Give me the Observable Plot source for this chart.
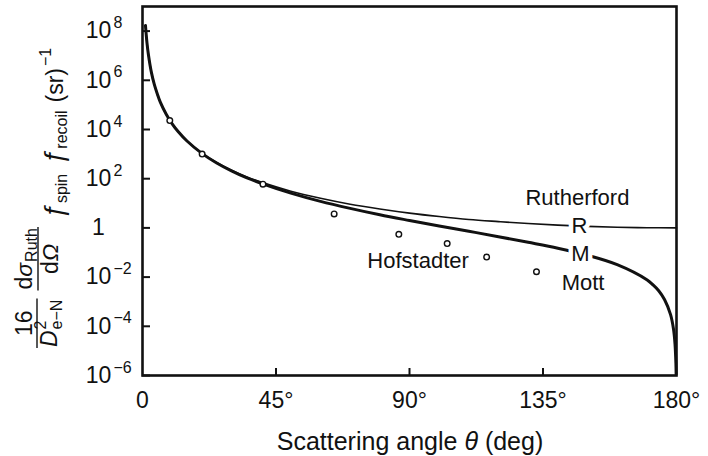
<!DOCTYPE html>
<html>
<head>
<meta charset="utf-8">
<script src="https://cdn.jsdelivr.net/npm/d3@7"></script>
<script src="https://cdn.jsdelivr.net/npm/@observablehq/plot@0.6"></script>
<style>
  html, body { margin: 0; padding: 0; background: #fff; }
  svg { display: block; }
</style>
</head>
<body>
<div id="chart"></div>
<script>
const FONT = "'Liberation Sans', Arial, Helvetica, sans-serif";
const INK = "#111";

// Rutherford curve
const rutherfordAngles = [1, 1.5, 2, 3, 4, 5, 6, 8, 10, 12, 15, 20, 25, 30, 35, 40, 50, 60, 70, 80, 90, 100, 110, 120, 130, 140, 150, 160, 170, 180];
const rutherfordValues = [1.7e8, 3.4e7, 1.1e7, 2.1e6, 6.7e5, 2.8e5, 1.3e5, 4.2e4, 1.7e4, 8.4e3, 3.4e3, 1.1e3, 460, 220, 120, 73, 31, 16, 9.2, 5.9, 4.0, 2.9, 2.2, 1.8, 1.5, 1.3, 1.15, 1.06, 1.02, 1.0];

// Mott curve
const mottAngles = [1, 1.5, 2, 3, 4, 5, 6, 8, 10, 12, 15, 20, 25, 30, 35, 40, 50, 60, 70, 80, 90, 100, 110, 120, 130, 140, 150, 160, 170, 172, 174, 176, 178, 179, 179.5, 179.8, 179.88];
const mottValues = [1.7e8, 3.4e7, 1.1e7, 2.1e6, 6.7e5, 2.8e5, 1.3e5, 4.2e4, 1.7e4, 8.3e3, 3.4e3, 1.07e3, 435, 208, 110, 65, 26, 12, 6.2, 3.4, 2.0, 1.2, 0.73, 0.44, 0.26, 0.15, 0.077, 0.032, 0.0078, 0.0049, 0.0028, 0.0012, 3.0e-4, 7.6e-5, 1.9e-5, 3.0e-6, 1.1e-6];

// Hofstadter measurements (open circles)
const hofstadterAngles = [9.2, 20.1, 40.6, 64.6, 86.4, 102.7, 116.0, 132.8];
const hofstadterValues = [2.3e4, 1.0e3, 60, 3.7, 0.55, 0.23, 0.065, 0.0165];

// Tick labels
const xTickValues = [0, 45, 90, 135, 180];
const xTickLabels = ["0", "45°", "90°", "135°", "180°"];
const yTickValues = [1e-6, 1e-4, 1e-2, 1, 1e2, 1e4, 1e6, 1e8];
const yTickBase = ["10", "10", "10", "1", "10", "10", "10", "10"];
const yTickExp = ["−6", "−4", "−2", "", "2", "4", "6", "8"];

// Annotations
const curveTags = ["R", "M"];
const curveTagAngles = [147.3, 147.6];
const curveTagValues = [1.17, 0.09];
const nameLabels = ["Rutherford", "Hofstadter", "Mott"];
const nameAngles = [146.6, 92.9, 148.5];
const nameValues = [17.2, 0.045, 0.0058];

const idx = (arr) => d3.range(arr.length);

const chart = Plot.plot({
  width: 708,
  height: 456,
  marginLeft: 142,
  marginRight: 32,
  marginTop: 6,
  marginBottom: 81,
  style: { fontFamily: FONT, fontSize: "22px", color: INK, background: "#fff" },
  x: { domain: [0, 180], label: null },
  y: { type: "log", domain: [1e-6, 1e9], label: null },
  marks: [
    // inward ticks
    Plot.axisX({ ticks: [45, 90, 135], tickSize: 7, dy: -7, tickFormat: () => "", label: null, strokeWidth: 2 }),
    Plot.axisY({ ticks: yTickValues, tickSize: 8, dx: 8, tickFormat: () => "", label: null, strokeWidth: 2 }),
    // x tick labels
    Plot.axisX({ ticks: xTickValues, tickSize: 0, tickPadding: 16, fontSize: 23,
      tickFormat: (d) => xTickLabels[xTickValues.indexOf(d)], label: null }),
    // y tick labels (base and exponent)
    Plot.text(idx(yTickValues), { y: (i) => yTickValues[i], text: (i) => yTickBase[i],
      frameAnchor: "left", textAnchor: "middle", dx: -44, fontSize: 23, fill: INK }),
    Plot.text(idx(yTickValues), { y: (i) => yTickValues[i], text: (i) => yTickExp[i],
      frameAnchor: "left", textAnchor: "start", dx: -29, dy: -8, fontSize: 16, fill: INK }),
    // curves
    Plot.line(idx(rutherfordAngles), { x: (i) => rutherfordAngles[i], y: (i) => rutherfordValues[i],
      stroke: INK, strokeWidth: 1.6, curve: "catmull-rom" }),
    Plot.line(idx(mottAngles), { x: (i) => mottAngles[i], y: (i) => mottValues[i],
      stroke: INK, strokeWidth: 3, curve: "catmull-rom" }),
    // data points
    Plot.dot(idx(hofstadterAngles), { x: (i) => hofstadterAngles[i], y: (i) => hofstadterValues[i],
      r: 2.8, stroke: INK, strokeWidth: 1.4, fill: "white" }),
    // curve tags with white halo (gap in line)
    Plot.text(idx(curveTags), { x: (i) => curveTagAngles[i], y: (i) => curveTagValues[i], text: (i) => curveTags[i],
      fontSize: 22, fill: INK, stroke: "white", strokeWidth: 9 }),
    Plot.text(idx(nameLabels), { x: (i) => nameAngles[i], y: (i) => nameValues[i], text: (i) => nameLabels[i],
      fontSize: 22, fill: INK }),
    Plot.frame({ stroke: INK, strokeWidth: 2.6 })
  ]
});

document.getElementById("chart").appendChild(chart);

const svg = d3.select(chart);

// x-axis title
const xt = svg.append("text")
  .attr("x", 410).attr("y", 450)
  .attr("text-anchor", "middle")
  .attr("font-family", FONT).attr("font-size", 25).attr("fill", INK);
xt.append("tspan").text("Scattering angle ");
xt.append("tspan").attr("font-style", "italic").text("θ");
xt.append("tspan").text(" (deg)");

// y-axis title (rotated math expression)
const yl = svg.append("g").attr("transform", "rotate(-90)")
  .attr("font-family", FONT).attr("fill", INK);
const S = 23, s = 16;
const BAR = 37, NUM = 32, DEN = 57, MB = 64;
function addText(x, y, str, size, italic, anchor) {
  const t = yl.append("text").attr("x", x).attr("y", y).attr("font-size", size)
    .attr("text-anchor", anchor || "start").text(str);
  if (italic) t.attr("font-style", "italic");
  return t.node();
}
const len = (n) => n.getComputedTextLength();
function bar(x0, x1, y) {
  yl.append("line").attr("x1", x0).attr("x2", x1).attr("y1", y).attr("y2", y)
    .attr("stroke", INK).attr("stroke-width", 1.4);
}
let u = -348;
// fraction 1: 16 / D^2_{e-N}
{
  const d = addText(u + 1, DEN, "D", S, true);
  const wD = len(d);
  const sp = addText(u + 1 + wD + 1, DEN - 11, "2", s, false);
  const sb = addText(u + 1 + wD + 1, DEN + 5, "e−N", s, false);
  const w = 1 + wD + 1 + Math.max(len(sp), len(sb)) + 1;
  addText(u + w / 2, NUM, "16", S, false, "middle");
  bar(u, u + w, BAR);
  u += w + 8;
}
// fraction 2: dσ_Ruth / dΩ
{
  const n1 = addText(u + 1, NUM, "d", S, false);
  const w1 = len(n1);
  const n2 = addText(u + 1 + w1, NUM, "σ", S, true);
  const w2 = len(n2);
  const n3 = addText(u + 1 + w1 + w2 + 1, NUM + 5, "Ruth", s, false);
  const wn = 1 + w1 + w2 + 1 + len(n3) + 1;
  const dn = yl.append("text").attr("y", DEN + 1).attr("font-size", S).attr("text-anchor", "middle")
    .attr("x", u + wn / 2);
  dn.append("tspan").text("d");
  dn.append("tspan").attr("font-style", "italic").text("Ω");
  bar(u, u + wn, BAR + 1);
  u += wn + 8;
}
// f_spin
{
  const f = addText(u, MB - 1, "ƒ", 27, true);
  const wf = len(f);
  const sb = addText(u + wf + 1, MB + 3, "spin", s, false);
  u += wf + 1 + len(sb) + 9;
}
// f_recoil
{
  const f = addText(u, MB - 1, "ƒ", 27, true);
  const wf = len(f);
  const sb = addText(u + wf + 1, MB + 3, "recoil", s, false);
  u += wf + 1 + len(sb) + 8;
}
// (sr)^-1
{
  const t = addText(u, MB - 1, "(sr)", S, false);
  const wt = len(t);
  addText(u + wt + 2, MB - 13, "−1", s, false);
}
</script>
</body>
</html>
